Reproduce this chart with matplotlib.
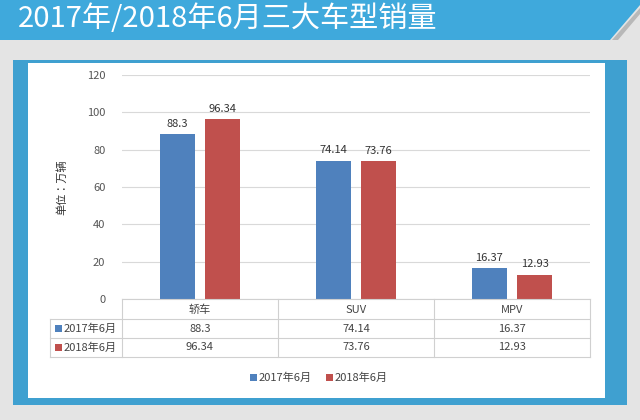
import matplotlib
matplotlib.use("Agg")
import matplotlib.pyplot as plt
from matplotlib.patches import Rectangle, Polygon
from matplotlib.lines import Line2D
from matplotlib import font_manager as fm
from matplotlib.ft2font import FT2Font
import numpy as np

def pick_cjk():
    pref = ["Noto Sans CJK SC", "Noto Sans SC", "Noto Sans CJK JP", "Source Han Sans SC", "WenQuanYi Zen Hei"]
    fonts = fm.fontManager.ttflist
    ordered = sorted(fonts, key=lambda f: (0 if f.name in pref else 1 if ('CJK' in f.name or ' SC' in f.name) else 2, f.name))
    for f in ordered:
        if f.weight not in (400, "normal", "regular") and isinstance(f.weight, int) and f.weight != 400:
            continue
        try:
            ft = FT2Font(f.fname)
            if all(ft.get_char_index(ord(ch)) for ch in "轿车年月单位万辆型销量"):
                return f.name
        except Exception:
            pass
    return "DejaVu Sans"

plt.rcParams['font.family'] = [pick_cjk(), 'DejaVu Sans']

categories = ["轿车", "SUV", "MPV"]
series_names = ["2017年6月", "2018年6月"]
v2017 = [88.3, 74.14, 16.37]
v2018 = [96.34, 73.76, 12.93]
yticks = [0, 20, 40, 60, 80, 100, 120]
colors = ["#4f81bd", "#c0504d"]

W, H = 640, 420
fig = plt.figure(figsize=(6.4, 4.2), dpi=100)
fig.patch.set_facecolor("#e4e4e4")

def px(x, y):
    return x / W, 1 - y / H

def rect(x0, y0, x1, y1, z=-5, **kw):
    fx, fy = px(x0, y1)
    p = Rectangle((fx, fy), (x1 - x0) / W, (y1 - y0) / H, transform=fig.transFigure, zorder=z, **kw)
    fig.patches.append(p)

pts = [px(0, 0), px(640, 0), px(640, 5), px(610, 40), px(0, 40)]
fig.patches.append(Polygon(pts, closed=True, transform=fig.transFigure, facecolor="#3fa9dc", edgecolor="none", zorder=-5))
fig.patches.append(Polygon([px(612, 40), px(640, 8), px(640, 14), px(618, 40)], closed=True,
                           transform=fig.transFigure, facecolor="#b8b8b8", edgecolor="none", zorder=-5))
fig.text(*px(18, 19), "2017年/2018年6月三大车型销量", color="white", fontsize=21, va="center", ha="left")
rect(13, 60, 627, 405, facecolor="#3fa0d0", edgecolor="none", z=-6)
rect(28, 63, 605, 398, facecolor="white", edgecolor="none", z=-5)

L, R, T, B = 122, 590, 75, 299
ax = fig.add_axes([L / W, 1 - B / H, (R - L) / W, (B - T) / H])
ax.patch.set_alpha(0)
x = np.arange(len(categories))
bw, off = 0.225, 0.145
for vals, c, s in [(v2017, colors[0], -off), (v2018, colors[1], off)]:
    bars = ax.bar(x + s, vals, bw, color=c, zorder=3)
    for b, v in zip(bars, vals):
        ax.text(b.get_x() + b.get_width() / 2, v + 3, f"{v:g}", ha="center", va="bottom", fontsize=8, color="#333333")
ax.set_xlim(-0.5, 2.5)
ax.set_ylim(0, 120)
ax.set_yticks(yticks)
ax.set_yticklabels([str(t) for t in yticks], fontsize=8, color="#555555")
ax.grid(axis="y", color="#d9d9d9", lw=0.8, zorder=0)
for sp in ax.spines.values():
    sp.set_visible(False)
ax.tick_params(length=0, pad=12)
ax.set_xticks([])
fig.text(*px(62, 187), "单位：万辆", rotation=90, fontsize=8, va="center", ha="center", color="#333333")

lc = "#d0d0d0"
def hline(y, x0, x1):
    fig.lines.append(Line2D([x0 / W, x1 / W], [1 - y / H] * 2, transform=fig.transFigure, color=lc, lw=0.8))
def vline(xx, y0, y1):
    fig.lines.append(Line2D([xx / W] * 2, [1 - y0 / H, 1 - y1 / H], transform=fig.transFigure, color=lc, lw=0.8))
hline(299, L, R)
for y in (319, 338, 357):
    hline(y, 50, R)
for xx in (L, 278, 434, R):
    vline(xx, 299, 357)
vline(50, 319, 357)
colw = (R - L) / 3
for i, c in enumerate(categories):
    cx = L + colw * (i + 0.5)
    fig.text(*px(cx, 310), c, ha="center", va="center", fontsize=8, color="#444444")
    fig.text(*px(cx, 328.5), f"{v2017[i]:g}", ha="center", va="center", fontsize=8, color="#444444")
    fig.text(*px(cx, 347.5), f"{v2018[i]:g}", ha="center", va="center", fontsize=8, color="#444444")
for j, (nm, yy) in enumerate(zip(series_names, (328.5, 347.5))):
    rect(55, yy - 3.5, 62, yy + 3.5, facecolor=colors[j], edgecolor="none", z=1)
    fig.text(*px(64, yy), nm, ha="left", va="center", fontsize=8, color="#444444")
for j, (nm, lx) in enumerate(zip(series_names, (250, 326))):
    rect(lx, 374, lx + 7, 381, facecolor=colors[j], edgecolor="none", z=1)
    fig.text(*px(lx + 9, 377.5), nm, ha="left", va="center", fontsize=8, color="#444444")

fig.savefig("out.png", dpi=100, facecolor=fig.get_facecolor())
